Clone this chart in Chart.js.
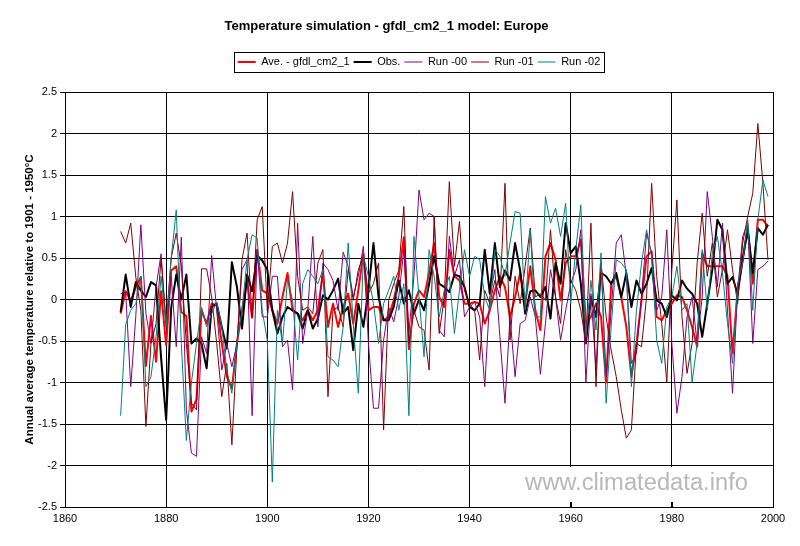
<!DOCTYPE html>
<html lang="en">
<head>
<meta charset="UTF-8">
<title>Temperature simulation - gfdl_cm2_1 model: Europe</title>
<style>
  html, body { margin: 0; padding: 0; background: #fff; }
  #wrap { width: 800px; height: 546px; position: relative; }
</style>
</head>
<body>
<div id="wrap"><canvas id="myChart"></canvas></div>
<script src="https://cdn.jsdelivr.net/npm/chart.js"></script>
<script>
// years 1871 - 1999
const years = [
  1871, 1872, 1873, 1874, 1875, 1876, 1877, 1878, 1879,
  1880, 1881, 1882, 1883, 1884, 1885, 1886, 1887, 1888, 1889,
  1890, 1891, 1892, 1893, 1894, 1895, 1896, 1897, 1898, 1899,
  1900, 1901, 1902, 1903, 1904, 1905, 1906, 1907, 1908, 1909,
  1910, 1911, 1912, 1913, 1914, 1915, 1916, 1917, 1918, 1919,
  1920, 1921, 1922, 1923, 1924, 1925, 1926, 1927, 1928, 1929,
  1930, 1931, 1932, 1933, 1934, 1935, 1936, 1937, 1938, 1939,
  1940, 1941, 1942, 1943, 1944, 1945, 1946, 1947, 1948, 1949,
  1950, 1951, 1952, 1953, 1954, 1955, 1956, 1957, 1958, 1959,
  1960, 1961, 1962, 1963, 1964, 1965, 1966, 1967, 1968, 1969,
  1970, 1971, 1972, 1973, 1974, 1975, 1976, 1977, 1978, 1979,
  1980, 1981, 1982, 1983, 1984, 1985, 1986, 1987, 1988, 1989,
  1990, 1991, 1992, 1993, 1994, 1995, 1996, 1997, 1998, 1999
];

const aveModel = [
  -0.17, 0.10, -0.02, 0.15, 0.27, -0.80, -0.20, -0.75, 0.10,
  -0.55, 0.35, 0.40, -0.15, -0.20, -1.35, -1.20, -0.13, -0.29, -0.05,
  -0.07, -0.53, -0.93, -1.07, -0.53, -0.13, 0.23, -0.22, 0.60, 0.11,
  0.07, -0.13, -0.29, 0.03, 0.32, -0.13, -0.17, -0.25, -0.13, -0.25,
  -0.13, 0.32, -0.33, -0.05, -0.33, -0.09, 0.07, -0.29, 0.11, 0.55,
  -0.13, -0.09, -0.09, -0.25, -0.21, -0.01, 0.28, 0.75, -0.60, -0.05,
  0.11, 0.03, 0.32, 0.68, 0.03, -0.09, 0.60, 0.28, 0.23, -0.05,
  -0.05, -0.03, -0.05, -0.29, -0.13, 0.11, 0.28, 0.15, -0.21, 0.03,
  0.32, -0.05, 0.40, -0.13, -0.37, 0.52, 0.68, 0.48, -0.01, 0.44,
  0.52, 0.52, 0.72, -0.29, -0.21, -0.05, -0.21, -1.00, 0.19, 0.28,
  0.03, -0.33, -0.93, -0.53, -0.01, 0.52, 0.58, -0.21, -0.25, -0.13,
  -0.05, 0.05, 0.03, -0.13, -0.33, -0.57, 0.56, 0.40, 0.40, 0.40,
  0.40, 0.28, -0.65, 0.11, 0.48, 0.88, 0.19, 0.96, 0.96, 0.88
];

const observed = [
  -0.15, 0.30, -0.09, 0.21, 0.11, 0.03, 0.21, 0.17, -0.70,
  -1.45, -0.10, 0.30, 0.00, 0.30, -0.53, -0.47, -0.53, -0.83, -0.09,
  -0.05, -0.33, -0.59, 0.45, 0.15, -0.35, 0.30, 0.10, 0.53, 0.47,
  0.36, -0.13, -0.41, -0.21, -0.09, -0.13, -0.17, -0.35, -0.13, -0.35,
  -0.23, 0.05, 0.00, 0.11, 0.25, -0.17, -0.09, -0.61, -0.05, -0.33,
  0.11, 0.68, 0.03, -0.25, -0.25, -0.09, 0.23, -0.05, 0.11, -0.17,
  0.00, -0.13, 0.19, 0.52, 0.19, 0.15, 0.09, 0.30, 0.28, 0.15,
  -0.09, -0.13, -0.05, 0.60, 0.07, 0.68, 0.15, 0.35, 0.23, 0.68,
  0.35, -0.17, 0.10, 0.11, 0.03, 0.15, -0.23, 0.44, 0.19, 0.92,
  0.56, 0.64, 0.19, -0.53, 0.03, -0.21, 0.32, 0.28, 0.19, 0.32,
  0.03, 0.32, -0.09, 0.23, 0.07, 0.19, 0.38, -0.01, -0.05, -0.21,
  0.05, -0.01, 0.23, 0.13, 0.07, -0.05, -0.45, -0.05, 0.36, 0.96,
  0.84, 0.19, 0.27, 0.07, 0.48, 0.84, 0.32, 0.86, 0.78, 0.90
];

const run00 = [
  0.07, 0.09, -1.05, -0.20, 0.90, -0.17, -0.53, 0.15, 0.55,
  -0.33, 0.28, -0.57, 0.75, -1.33, -1.85, -1.89, -0.45, -0.65, 0.53,
  -0.13, -0.85, -0.53, -0.81, -0.53, 0.36, 0.48, -1.40, 0.60, -0.21,
  -0.21, 0.28, 0.28, -0.57, -0.49, -1.09, 0.92, -0.53, -0.13, 0.76,
  -0.33, 0.44, 0.36, 0.23, -0.13, 0.57, 0.40, 0.03, 0.28, 0.64,
  -0.53, -1.31, -1.31, -0.49, -0.09, -0.27, 0.03, 0.60, -0.41, 0.28,
  1.32, 0.96, 1.04, 1.00, -0.37, -0.45, 0.76, 0.28, 0.48, -0.21,
  -0.09, -0.03, -0.21, -1.05, 0.03, 0.36, -0.45, -1.25, -0.21, -0.93,
  -0.29, -0.25, 0.03, -0.21, -0.90, -0.29, 0.36, 0.03, -0.49, -0.13,
  0.19, 0.36, 0.84, -1.00, 0.07, -0.85, 0.44, -0.93, -0.13, 0.68,
  0.78, 0.28, -0.77, -0.65, 0.03, 0.80, 0.56, -0.13, 0.03, 0.84,
  -0.53, -1.37, -0.93, -0.21, 0.03, -0.53, 0.03, 1.30, 0.76, 0.15,
  0.92, -0.13, -1.13, 0.11, 0.76, 0.92, -0.53, 0.36, 0.40, 0.46
];

const run01 = [
  0.82, 0.68, 0.92, 0.27, -0.13, -1.53, -0.53, -0.29, 0.50,
  -0.30, 0.50, 0.80, 0.40, -0.53, -1.25, -1.33, 0.37, 0.37, 0.03,
  -0.53, -1.17, -0.77, -1.75, -0.57, 0.48, 0.80, -0.21, 0.96, 1.12,
  -0.13, 0.64, 0.68, 0.44, 0.68, 1.30, 0.28, -0.13, -0.09, -0.17,
  0.44, 0.60, -1.17, -0.13, -0.09, -0.33, 0.36, -0.01, 0.36, 0.52,
  0.07, 0.19, 0.44, -1.57, -0.01, 0.19, 0.35, 1.12, -0.53, -0.13,
  -0.33, -0.37, -0.85, 1.00, -0.41, 0.03, 1.42, 0.40, 0.94, 0.11,
  -0.05, -0.13, -0.73, 0.11, -0.05, 0.23, 0.03, 1.40, -0.49, 0.28,
  -0.05, 0.40, 0.86, 0.03, 0.07, -0.01, 0.84, 0.03, -0.29, 0.60,
  0.23, 0.11, -0.13, -0.53, 0.92, -1.05, 0.44, -0.21, -0.61, -0.93,
  -1.33, -1.67, -1.57, -0.53, -0.57, 0.03, 1.40, 0.28, -0.29, -1.00,
  0.36, 1.20, -0.21, -0.89, -0.53, 0.44, 1.04, 0.28, 0.68, 0.03,
  0.36, 0.84, 0.36, -0.05, 0.68, 1.00, 1.28, 2.12, 1.40, 0.48
];

const run02 = [
  -1.40, -0.30, -0.13, -0.05, 0.28, -1.05, -0.93, -0.45, 0.28,
  -0.33, 0.50, 1.08, -0.53, -1.70, -1.00, -0.53, -0.09, -0.33, -0.17,
  -0.03, -0.33, -0.85, -1.13, -0.53, -0.13, 0.48, 0.78, 0.74, -0.13,
  -0.49, -2.20, -0.13, -0.53, 0.24, -0.01, -0.73, 0.19, 0.36, 0.28,
  0.19, 0.36, -0.69, -0.73, -0.81, -0.33, 0.68, -0.29, -1.13, 0.52,
  0.28, -0.05, -0.53, -0.05, 0.11, 0.28, -0.13, 0.19, -1.40, 0.76,
  0.03, -0.69, 0.60, 0.28, -0.21, 0.11, 0.28, -0.41, 0.11, 0.60,
  0.28, 0.52, 0.48, 0.03, -0.13, 0.60, 0.52, 0.28, 0.68, 1.06,
  1.04, -0.13, 0.84, -0.21, -0.21, 1.24, 0.92, 1.10, 0.76, 1.16,
  -0.05, 0.60, 1.14, -0.45, 0.23, -0.37, 0.56, -1.25, -0.33, 0.48,
  0.44, 0.36, -1.05, -0.13, 0.44, 0.84, 0.52, -0.49, -0.77, -0.09,
  0.03, 0.40, -0.13, -0.05, -1.00, -0.53, 0.60, -0.13, 0.56, 0.76,
  0.32, -0.29, -0.77, 0.19, 0.44, 0.96, -0.13, 0.96, 1.44, 1.24
];

const xTickValues = [1860, 1880, 1900, 1920, 1940, 1960, 1980, 2000];
const yTickValues = [-2.5, -2, -1.5, -1, -0.5, 0, 0.5, 1, 1.5, 2, 2.5];

const FONT = 'Arial, "Liberation Sans", sans-serif';
Chart.defaults.font.family = FONT;
Chart.defaults.color = '#000';

function f_points(p_values) {
  return years.map((yr, i) => ({ x: yr, y: p_values[i] }));
}

function f_line(p_label, p_values, p_color, p_width, p_order) {
  return {
    label: p_label,
    data: f_points(p_values),
    borderColor: p_color,
    backgroundColor: p_color,
    borderWidth: p_width,
    borderJoinStyle: 'round',
    pointRadius: 0,
    tension: 0,
    fill: false,
    order: p_order
  };
}

// extra gap below the legend, and a frame around it
const legendFrame = {
  id: 'legendFrame',
  afterInit(chart) {
    const lg = chart.legend;
    const baseFit = lg.fit;
    lg.fit = function () {
      baseFit.call(this);
      this.height += 14.5;
    };
  },
  afterDraw(chart) {
    const hb = chart.legend.legendHitBoxes;
    if (!hb || !hb.length) return;
    const first = hb[0], last = hb[hb.length - 1];
    const cy = first.top + first.height / 2;
    const x0 = Math.round(first.left - 4) + 0.5;
    const x1 = Math.round(last.left + last.width + 4) + 0.5;
    const ctx = chart.ctx;
    ctx.save();
    ctx.strokeStyle = '#000';
    ctx.lineWidth = 1;
    ctx.strokeRect(x0, Math.round(cy - 10) + 0.5, x1 - x0, 20);
    ctx.restore();
  }
};

// site mark in the lower right corner of the plot
const watermark = {
  id: 'watermark',
  afterDraw(chart) {
    const { ctx, chartArea, scales } = chart;
    const boxL = chartArea.right - 283;
    const boxR = chartArea.right - 1;
    const boxT = chartArea.bottom - 40;
    const boxB = chartArea.bottom - 5;
    ctx.save();
    ctx.fillStyle = '#fff';
    ctx.fillRect(boxL, boxT, boxR - boxL, boxB - boxT);
    // inner tick marks
    ctx.strokeStyle = '#000';
    ctx.lineWidth = 1;
    xTickValues.forEach(v => {
      const px = scales.x.getPixelForValue(v);
      if (px > boxL && px < boxR) {
        ctx.beginPath();
        ctx.moveTo(Math.round(px) + 0.5, boxB);
        ctx.lineTo(Math.round(px) + 0.5, chartArea.bottom);
        ctx.stroke();
      }
    });
    const text = 'www.climatedata.info';
    ctx.font = '24px ' + FONT;
    const w = ctx.measureText(text).width;
    const size = 24 * 223 / w;
    ctx.font = size.toFixed(2) + 'px ' + FONT;
    ctx.fillStyle = '#b8b8b8';
    ctx.textAlign = 'left';
    ctx.textBaseline = 'alphabetic';
    ctx.fillText(text, chartArea.right - 248, chartArea.bottom - 17);
    ctx.restore();
  }
};

const ctx = document.getElementById('myChart');
const myChart = new Chart(ctx, {
  type: 'line',
  data: {
    datasets: [
      f_line('Ave. - gfdl_cm2_1', aveModel, '#ff0000', 2, 5),
      f_line('Obs.', observed, '#000000', 2, 4),
      f_line('Run -00', run00, '#800080', 1, 3),
      f_line('Run -01', run01, '#800000', 1, 2),
      f_line('Run -02', run02, '#008080', 1, 1)
    ]
  },
  options: {
    responsive: true,
    maintainAspectRatio: false,
    animation: false,
    layout: { padding: { left: 0, right: 27, top: 0, bottom: 0 } },
    plugins: {
      tooltip: { enabled: false },
      title: {
        display: true,
        text: 'Temperature simulation - gfdl_cm2_1 model: Europe',
        color: '#000',
        font: { size: 13, weight: 'bold' },
        padding: { top: 19, bottom: 17.9 }
      },
      legend: {
        position: 'top',
        fullSize: false,
        align: 'center',
        labels: {
          usePointStyle: true,
          pointStyle: 'line',
          pointStyleWidth: 18,
          padding: 4,
          color: '#000',
          font: { size: 11 },
          sort: (a, b) => a.datasetIndex - b.datasetIndex,
          generateLabels: (chart) =>
            Chart.defaults.plugins.legend.labels.generateLabels(chart).map(item => {
              const ds = chart.data.datasets[item.datasetIndex];
              return Object.assign(item, { strokeStyle: ds.borderColor, lineWidth: ds.borderWidth, pointStyle: 'line' });
            })
        }
      }
    },
    scales: {
      x: {
        type: 'linear',
        min: 1860,
        max: 2000,
        afterBuildTicks: (s) => { s.ticks = xTickValues.map(v => ({ value: v })); },
        afterFit: (s) => { s.height = 39; },
        grid: { color: '#000', lineWidth: 1, drawTicks: false },
        border: { color: '#000' },
        ticks: {
          padding: 5,
          color: '#000',
          font: { size: 11 },
          maxRotation: 0,
          autoSkip: false,
          callback: (v) => String(v)
        }
      },
      y: {
        type: 'linear',
        min: -2.5,
        max: 2.5,
        afterBuildTicks: (s) => { s.ticks = yTickValues.map(v => ({ value: v })); },
        afterFit: (s) => { s.width = 65; },
        grid: { color: '#000', lineWidth: 1, tickLength: 5 },
        border: { color: '#000' },
        ticks: {
          padding: 3,
          color: '#000',
          font: { size: 11 },
          callback: (v) => String(v)
        },
        title: {
          display: true,
          text: 'Annual average temperature relative to 1901 - 1950°C',
          color: '#000',
          font: { size: 11.5, weight: 'bold' },
          padding: { top: 23, bottom: 0 }
        }
      }
    }
  },
  plugins: [legendFrame, watermark]
});
</script>
</body>
</html>
